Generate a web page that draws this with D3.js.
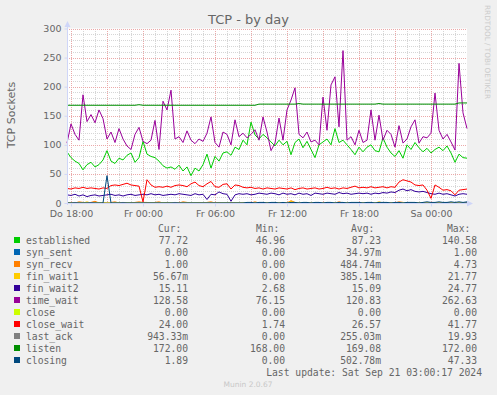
<!DOCTYPE html>
<html>
<head>
<meta charset="utf-8">
<script src="https://cdn.jsdelivr.net/npm/d3@7"></script>
<style>
body { margin: 0; background: #f0f0f0; }
text { font-family: "DejaVu Sans", sans-serif; fill: #666; }
.mono { font-family: "DejaVu Sans Mono", monospace; font-size: 9.7px; }
</style>
</head>
<body>
<script>
// samples every 20 minutes, starting Do 19.09. 17:40
var startTime = new Date(2024, 8, 19, 17, 40);
var endTime = new Date(2024, 8, 21, 3, 0);
var stepMinutes = 20;

var seriesNames = ["established", "syn_sent", "syn_recv", "fin_wait1", "fin_wait2", "time_wait",
    "close", "close_wait", "last_ack", "listen", "closing"];
var seriesColors = ["#00cc00", "#0066b3", "#ff8000", "#ffcc00", "#330099", "#990099",
    "#ccff00", "#ff0000", "#808080", "#008f00", "#00487d"];

var established = [88, 78, 72, 68, 57, 66, 70, 62, 66, 74,
    90, 72, 68, 77, 74, 82, 86, 70, 78, 106,
    84, 80, 78, 72, 64, 60, 62, 58, 65, 55,
    62, 47, 60, 55, 66, 84, 60, 80, 72, 86,
    88, 82, 96, 92, 108, 100, 139, 117, 110, 118,
    112, 105, 98, 108, 100, 106, 83, 104, 110, 95,
    106, 92, 78, 100, 105, 110, 100, 128, 104, 108,
    100, 92, 83, 96, 88, 96, 100, 90, 88, 112,
    96, 86, 80, 90, 77, 100, 92, 104, 95, 88,
    94, 86, 92, 96, 90, 98, 86, 70, 84, 78,
    77];
var synSent = [0, 0, 0, 0, 0, 0, 0, 0, 0, 0,
    0, 0, 0, 0, 0, 0, 0, 0, 0, 0,
    0, 0, 0, 0, 0, 0, 0, 0, 0, 0,
    0, 0, 0, 0, 0, 0, 0, 0, 0, 0,
    0, 0, 0, 0, 0, 0, 0, 0, 0, 0,
    0, 0, 0, 0, 0, 0, 1, 0, 0, 0,
    0, 0, 0, 0, 0, 0, 0, 0, 0, 0,
    0, 0, 0, 0, 0, 0, 0, 0, 0, 0,
    0, 0, 0, 0, 0, 0, 0, 0, 0, 0,
    0, 0, 0, 0, 0, 0, 0, 0, 0, 0,
    0];
var synRecv = [0, 1, 0, 2, 1, 0, 1, 3, 0, 1,
    0, 1, 2, 0, 1, 0, 0, 1, 2, 1,
    1, 0, 1, 2, 0, 1, 0, 1, 0, 2,
    1, 0, 0, 1, 0, 1, 2, 0, 1, 0,
    0, 1, 0, 0, 1, 0, 0, 2, 0, 0,
    1, 0, 0, 1, 0, 0, 4, 1, 0, 0,
    0, 1, 0, 0, 0, 1, 0, 0, 2, 0,
    0, 1, 0, 0, 1, 0, 0, 0, 1, 0,
    0, 1, 0, 2, 1, 0, 1, 0, 0, 0,
    1, 0, 0, 1, 0, 0, 1, 0, 1, 0,
    1];
var finWait1 = [0, 0, 1, 0, 0, 2, 0, 0, 1, 0,
    0, 0, 0, 1, 0, 0, 0, 0, 0, 0,
    0, 0, 0, 0, 1, 0, 0, 0, 0, 0,
    0, 0, 0, 0, 0, 0, 0, 0, 0, 0,
    0, 0, 0, 0, 0, 0, 0, 0, 0, 0,
    0, 0, 0, 0, 0, 0, 3, 0, 0, 0,
    0, 0, 0, 0, 0, 0, 0, 0, 0, 0,
    0, 0, 0, 0, 0, 0, 0, 0, 2, 0,
    0, 0, 0, 0, 1, 0, 0, 0, 0, 0,
    0, 0, 0, 0, 0, 0, 0, 0, 1, 0,
    0];
var finWait2 = [14, 13, 15, 12, 14, 11, 13, 14, 12, 13,
    14, 15, 13, 14, 12, 14, 15, 13, 14, 15,
    14, 16, 14, 15, 13, 14, 15, 14, 16, 15,
    14, 13, 16, 14, 15, 6, 15, 14, 19, 16,
    15, 3, 14, 16, 15, 16, 14, 15, 17, 16,
    15, 17, 16, 14, 17, 15, 16, 14, 17, 15,
    16, 13, 17, 16, 15, 17, 16, 15, 18, 16,
    17, 15, 16, 17, 16, 17, 15, 17, 16, 18,
    17, 19, 18, 22, 24, 21, 23, 20, 19, 20,
    18, 16, 15, 17, 15, 16, 14, 12, 15, 16,
    15];
var timeWait = [103, 136, 118, 108, 186, 140, 152, 138, 160, 145,
    110, 122, 104, 128, 110, 98, 92, 118, 130, 106,
    102, 108, 142, 92, 175, 160, 194, 110, 114, 104,
    124, 108, 102, 110, 106, 120, 148, 104, 96, 122,
    118, 100, 143, 114, 120, 112, 118, 126, 108, 148,
    122, 90, 103, 146, 108, 160, 177, 198, 118, 112,
    122, 105, 108, 100, 182, 125, 203, 217, 131, 262,
    108, 114, 100, 125, 104, 108, 160, 108, 151, 108,
    125, 118, 96, 133, 103, 110, 131, 143, 103, 114,
    112, 120, 189, 125, 110, 118, 105, 91, 240, 155,
    128];
var close = [0, 0, 0, 0, 0, 0, 0, 0, 0, 0,
    0, 0, 0, 0, 0, 0, 0, 0, 0, 0,
    0, 0, 0, 0, 0, 0, 0, 0, 0, 0,
    0, 0, 0, 0, 0, 0, 0, 0, 0, 0,
    0, 0, 0, 0, 0, 0, 0, 0, 0, 0,
    0, 0, 0, 0, 0, 0, 0, 0, 0, 0,
    0, 0, 0, 0, 0, 0, 0, 0, 0, 0,
    0, 0, 0, 0, 0, 0, 0, 0, 0, 0,
    0, 0, 0, 0, 0, 0, 0, 0, 0, 0,
    0, 0, 0, 0, 0, 0, 0, 0, 0, 0,
    0];
var closeWait = [25, 24, 26, 25, 27, 25, 26, 25, 24, 26,
    25, 30, 31, 30, 32, 34, 31, 30, 29, 2,
    40, 31, 27, 28, 27, 29, 27, 30, 31, 30,
    28, 33, 36, 30, 28, 33, 37, 28, 27, 32,
    33, 24, 31, 30, 27, 26, 27, 25, 26, 24,
    26, 25, 24, 26, 25, 24, 26, 23, 25, 26,
    24, 25, 26, 24, 25, 27, 25, 26, 24, 26,
    25, 27, 29, 26, 27, 26, 28, 26, 27, 28,
    26, 28, 27, 36, 40, 38, 36, 31, 30, 31,
    22, 8, 31, 27, 22, 23, 21, 14, 22, 23,
    24];
var lastAck = [0, 0, 1, 0, 0, 0, 1, 0, 0, 0,
    0, 0, 0, 0, 1, 0, 0, 0, 0, 0,
    0, 0, 0, 0, 0, 0, 0, 1, 0, 0,
    0, 0, 0, 0, 0, 0, 0, 0, 0, 0,
    0, 0, 0, 0, 0, 0, 0, 0, 0, 0,
    0, 0, 0, 0, 0, 0, 0, 0, 0, 0,
    0, 0, 0, 1, 0, 0, 0, 0, 0, 0,
    0, 0, 0, 0, 0, 0, 0, 0, 0, 0,
    0, 0, 0, 0, 0, 0, 0, 0, 0, 0,
    0, 0, 0, 0, 0, 1, 0, 0, 0, 0,
    1];
var listen = [168, 168, 168, 168, 168, 168, 168, 168, 168, 168,
    168, 168, 168, 168, 168, 168, 168, 168, 169, 168,
    168, 168, 168, 168, 168, 168, 168, 168, 168, 168,
    168, 168, 168, 168, 168, 168, 168, 168, 168, 168,
    168, 168, 168, 168, 168, 168, 168, 168, 170, 170,
    170, 170, 170, 170, 170, 170, 170, 170, 171, 170,
    170, 170, 170, 170, 170, 170, 170, 170, 170, 170,
    170, 170, 170, 170, 170, 170, 170, 170, 171, 170,
    170, 170, 170, 170, 170, 170, 170, 170, 170, 170,
    170, 170, 170, 170, 170, 170, 170, 170, 172, 172,
    172];
var closing = [0, 0, 0, 0, 0, 0, 0, 0, 0, 0,
    47, 0, 0, 0, 0, 0, 0, 0, 0, 0,
    0, 0, 0, 0, 0, 0, 0, 0, 0, 0,
    0, 0, 0, 0, 0, 0, 0, 0, 0, 0,
    0, 0, 0, 0, 0, 1, 1, 0, 1, 1,
    0, 1, 1, 0, 1, 0, 1, 1, 0, 1,
    1, 0, 1, 1, 0, 1, 1, 0, 1, 1,
    0, 1, 1, 1, 0, 1, 1, 0, 1, 1,
    1, 0, 1, 1, 0, 1, 1, 1, 0, 1,
    2, 1, 1, 2, 1, 1, 2, 1, 2, 1,
    2];

var seriesValues = [established, synSent, synRecv, finWait1, finWait2, timeWait,
    close, closeWait, lastAck, listen, closing];

// legend numbers as printed
var curValues = ["77.72", "0.00", "1.00", "56.67m", "15.11", "128.58", "0.00", "24.00", "943.33m", "172.00", "1.89"];
var minValues = ["46.96", "0.00", "0.00", "0.00", "2.68", "76.15", "0.00", "1.74", "0.00", "168.00", "0.00"];
var avgValues = ["87.23", "34.97m", "484.74m", "385.14m", "15.09", "120.83", "0.00", "26.57", "255.03m", "169.08", "502.78m"];
var maxValues = ["140.58", "1.00", "4.73", "21.77", "24.77", "262.63", "0.00", "41.77", "19.93", "172.00", "47.33"];

var yTicks = [0, 50, 100, 150, 200, 250, 300];
var dayNames = ["So", "Mo", "Di", "Mi", "Do", "Fr", "Sa"];

var width = 497, height = 395;
var plot = {left: 67, right: 467, top: 28.5, bottom: 203};

var svg = d3.select("body").append("svg")
    .attr("width", width)
    .attr("height", height);

svg.append("rect").attr("width", width).attr("height", height).attr("fill", "#f0f0f0");
svg.append("rect")
    .attr("x", plot.left).attr("y", plot.top)
    .attr("width", plot.right - plot.left).attr("height", plot.bottom - plot.top)
    .attr("fill", "#ffffff");

var x = d3.scaleTime().domain([startTime, endTime]).range([plot.left, plot.right]);
var y = d3.scaleLinear().domain([0, 300]).range([plot.bottom, plot.top]);

// grid: minor first, then major
var grid = svg.append("g").attr("shape-rendering", "crispEdges").attr("stroke-dasharray", "1,1");
grid.selectAll(".hmin").data(d3.range(0, 301, 10).filter(function(v) { return v % 50 != 0; }))
    .enter().append("line")
    .attr("x1", plot.left).attr("x2", plot.right)
    .attr("y1", function(d) { return Math.round(y(d)) + 0.5; })
    .attr("y2", function(d) { return Math.round(y(d)) + 0.5; })
    .attr("stroke", "#d6d6d6");
grid.selectAll(".vmin").data(d3.timeHour.range(startTime, endTime).filter(function(d) { return d.getHours() % 3 != 0; }))
    .enter().append("line")
    .attr("x1", function(d) { return Math.round(x(d)) + 0.5; })
    .attr("x2", function(d) { return Math.round(x(d)) + 0.5; })
    .attr("y1", plot.top).attr("y2", plot.bottom)
    .attr("stroke", "#d6d6d6");
grid.selectAll(".hmaj").data(yTicks.slice(1))
    .enter().append("line")
    .attr("x1", plot.left).attr("x2", plot.right)
    .attr("y1", function(d) { return Math.round(y(d)) + 0.5; })
    .attr("y2", function(d) { return Math.round(y(d)) + 0.5; })
    .attr("stroke", "#eba9a9");
grid.selectAll(".vmaj").data(d3.timeHour.every(3).range(startTime, endTime))
    .enter().append("line")
    .attr("x1", function(d) { return Math.round(x(d)) + 0.5; })
    .attr("x2", function(d) { return Math.round(x(d)) + 0.5; })
    .attr("y1", plot.top).attr("y2", plot.bottom)
    .attr("stroke", "#eba9a9");

// series lines
var times = established.map(function(v, i) { return new Date(+startTime + i * stepMinutes * 60000); });
var line = d3.line()
    .x(function(d, i) { return x(times[i]); })
    .y(function(d) { return y(d); });

svg.append("g").selectAll("path")
    .data(seriesValues)
    .enter().append("path")
    .attr("d", line)
    .attr("fill", "none")
    .attr("stroke-width", 1)
    .attr("stroke", function(d, i) { return seriesColors[i]; });

// axes
var axisColor = "#cfd6f8";
var yAxis = svg.append("g")
    .attr("transform", "translate(" + (plot.left + 0.5) + ",0)")
    .call(d3.axisLeft(y).tickValues(yTicks).tickSize(3).tickPadding(3));
var xAxis = svg.append("g")
    .attr("transform", "translate(0," + (plot.bottom + 0.5) + ")")
    .call(d3.axisBottom(x).ticks(d3.timeHour.every(6)).tickSize(3).tickPadding(4)
        .tickFormat(function(d) { return dayNames[d.getDay()] + " " + d3.timeFormat("%H:%M")(d); }));
[xAxis, yAxis].forEach(function(a) {
    a.select(".domain").remove();
    a.selectAll("line").attr("stroke", axisColor);
    a.selectAll("text").attr("fill", "#666").style("font-size", "9.5px").style("font-family", "DejaVu Sans");
});
svg.append("line")
    .attr("x1", plot.left + 0.5).attr("x2", plot.left + 0.5)
    .attr("y1", plot.bottom + 2).attr("y2", 24)
    .attr("stroke", axisColor);
svg.append("line")
    .attr("x1", plot.left - 2).attr("x2", plot.right + 2)
    .attr("y1", plot.bottom + 0.5).attr("y2", plot.bottom + 0.5)
    .attr("stroke", axisColor);
svg.append("path")
    .attr("d", "M" + (plot.left - 2.5) + ",27 L" + (plot.left + 3.5) + ",27 L" + (plot.left + 0.5) + ",21 Z")
    .attr("fill", axisColor);
svg.append("path")
    .attr("d", "M" + plot.right + "," + (plot.bottom - 2.5) + " L" + plot.right + "," + (plot.bottom + 3.5) +
        " L" + (plot.right + 6) + "," + (plot.bottom + 0.5) + " Z")
    .attr("fill", axisColor);

// titles
svg.append("text")
    .attr("x", 248.5).attr("y", 24)
    .attr("text-anchor", "middle")
    .style("font-size", "13px")
    .text("TCP - by day");
svg.append("text")
    .attr("transform", "translate(15,115) rotate(-90)")
    .attr("text-anchor", "middle")
    .style("font-size", "11px")
    .text("TCP Sockets");
svg.append("text")
    .attr("transform", "translate(484.5,5) rotate(90)")
    .attr("text-anchor", "start")
    .style("font-size", "7.3px")
    .attr("fill", "#cccccc")
    .style("fill", "#cccccc")
    .text("RRDTOOL / TOBI OETIKER");

// legend
var legend = svg.append("g");
var headers = [["Cur:", 158], ["Min:", 256], ["Avg:", 351], ["Max:", 447]];
headers.forEach(function(h) {
    legend.append("text").attr("class", "mono")
        .attr("x", h[1]).attr("y", 231.5).text(h[0]);
});
var rows = legend.selectAll(".row").data(seriesNames).enter().append("g")
    .attr("transform", function(d, i) { return "translate(0," + (243.5 + i * 12) + ")"; });
rows.append("rect")
    .attr("x", 14).attr("y", -6.5).attr("width", 6).attr("height", 6)
    .attr("fill", function(d, i) { return seriesColors[i]; });
rows.append("text").attr("class", "mono").attr("x", 26).text(function(d) { return d; });
[[curValues, 188], [minValues, 285], [avgValues, 381], [maxValues, 477]].forEach(function(col) {
    rows.append("text").attr("class", "mono")
        .attr("x", col[1]).attr("text-anchor", "end")
        .text(function(d, i) { return col[0][i]; });
});
legend.append("text").attr("class", "mono")
    .attr("x", 482).attr("y", 375.5).attr("text-anchor", "end")
    .text("Last update: Sat Sep 21 03:00:17 2024");
svg.append("text")
    .attr("x", 248).attr("y", 387)
    .attr("text-anchor", "middle")
    .style("font-size", "7.5px")
    .style("fill", "#c8c8c8")
    .text("Munin 2.0.67");
</script>
</body>
</html>
